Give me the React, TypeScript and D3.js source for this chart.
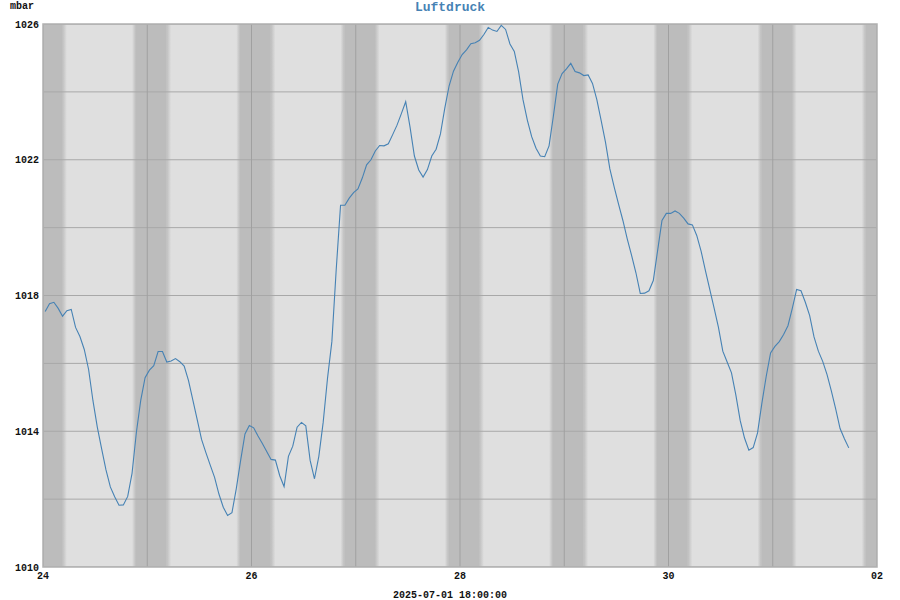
import React, { useEffect } from 'react';
import * as d3 from 'd3';

// hourly readings, first one at 2025-06-24 00:30 UTC
const startTime = Date.UTC(2025, 5, 24, 0, 30);
const pressure = [
  1017.53, 1017.76, 1017.8, 1017.62, 1017.39, 1017.55, 1017.59, 1017.06, 1016.79, 1016.41,
  1015.82, 1014.9, 1014.12, 1013.48, 1012.86, 1012.36, 1012.07, 1011.82, 1011.83, 1012.08,
  1012.76, 1013.97, 1014.91, 1015.58, 1015.8, 1015.93, 1016.35, 1016.35, 1016.04, 1016.07,
  1016.14, 1016.05, 1015.92, 1015.49, 1014.92, 1014.34, 1013.76, 1013.37, 1013.0, 1012.64,
  1012.15, 1011.76, 1011.52, 1011.6, 1012.31, 1013.14, 1013.92, 1014.17, 1014.1, 1013.86,
  1013.64, 1013.4, 1013.17, 1013.15, 1012.69, 1012.37, 1013.26, 1013.56, 1014.12, 1014.26,
  1014.16, 1013.14, 1012.6, 1013.26, 1014.26, 1015.56, 1016.64, 1018.76, 1020.66, 1020.66,
  1020.87, 1021.03, 1021.14, 1021.46, 1021.85, 1022.0, 1022.26, 1022.42, 1022.41, 1022.47,
  1022.74, 1023.02, 1023.36, 1023.71, 1022.96, 1022.11, 1021.7, 1021.49, 1021.71, 1022.11,
  1022.31, 1022.76, 1023.52, 1024.18, 1024.61, 1024.87, 1025.1, 1025.24, 1025.42, 1025.45,
  1025.52, 1025.69, 1025.9, 1025.82, 1025.78, 1025.96, 1025.84, 1025.41, 1025.19, 1024.59,
  1023.77, 1023.17, 1022.68, 1022.34, 1022.11, 1022.09, 1022.41, 1023.29, 1024.23, 1024.54,
  1024.68, 1024.84, 1024.6, 1024.56, 1024.48, 1024.5, 1024.25, 1023.77, 1023.15, 1022.51,
  1021.73, 1021.19, 1020.69, 1020.21, 1019.67, 1019.18, 1018.67, 1018.06, 1018.07, 1018.14,
  1018.44, 1019.33, 1020.21, 1020.42, 1020.42, 1020.49, 1020.42, 1020.28, 1020.11, 1020.08,
  1019.77, 1019.31, 1018.73, 1018.18, 1017.63, 1017.06, 1016.36, 1016.04, 1015.72, 1015.07,
  1014.32, 1013.8, 1013.44, 1013.52, 1013.95, 1014.83, 1015.62, 1016.31, 1016.5, 1016.64,
  1016.85, 1017.11, 1017.62, 1018.18, 1018.14, 1017.8, 1017.41, 1016.78, 1016.36, 1016.06,
  1015.67, 1015.18, 1014.65, 1014.08, 1013.78, 1013.51,
];

const xDomain = [new Date(Date.UTC(2025, 5, 24)), new Date(Date.UTC(2025, 6, 2))];
const yDomain: [number, number] = [1010, 1026];
const yGridTicks = d3.range(1010, 1027, 2);
const yLabelTicks = [1010, 1014, 1018, 1022, 1026];
const xTickDays = [0, 2, 4, 6, 8]; // days after start: 24, 26, 28, 30, 02
const updated = '2025-07-01 18:00:00';

// night shading, hours relative to midnight
const duskStart = -3.5;
const darkStart = -2.6;
const darkEnd = 4.4;
const dawnEnd = 5.5;

const W = 900;
const H = 600;
const margin = { top: 24, right: 23, bottom: 33, left: 43 };
const font = '"Liberation Mono", "DejaVu Sans Mono", monospace';

const App: React.FC = () => {
  useEffect(() => {
    document.body.style.margin = '0';
  }, []);

  const x = d3.scaleUtc().domain(xDomain).range([margin.left, W - margin.right]);
  const y = d3.scaleLinear().domain(yDomain).range([H - margin.bottom, margin.top]);

  const points = pressure.map((v, i) => ({ t: new Date(startTime + i * 3600000), v }));
  const line = d3.line<{ t: Date; v: number }>()
    .x(d => x(d.t))
    .y(d => y(d.v));

  const midnights = d3.utcDay.range(xDomain[0], d3.utcDay.offset(xDomain[1], 1));
  const hr = (d: Date, h: number) => x(new Date(d.getTime() + h * 3600000));
  const xTicks = xTickDays.map(n => d3.utcDay.offset(xDomain[0], n));
  const fmt = d3.utcFormat('%d');

  const [x0, x1] = x.range();
  const [y1, y0] = y.range();

  return (
    <svg width={W} height={H} style={{ display: 'block' }}>
      <defs>
        <clipPath id="plot">
          <rect x={x0} y={y0} width={x1 - x0} height={y1 - y0} />
        </clipPath>
        <linearGradient id="dusk" x1="0" x2="1" y1="0" y2="0">
          <stop offset="0" stopColor="#dfdfdf" />
          <stop offset="1" stopColor="#bcbcbc" />
        </linearGradient>
        <linearGradient id="dawn" x1="0" x2="1" y1="0" y2="0">
          <stop offset="0" stopColor="#bcbcbc" />
          <stop offset="1" stopColor="#dfdfdf" />
        </linearGradient>
      </defs>

      <text x={W / 2} y={11} textAnchor="middle" fontFamily={font} fontWeight="bold"
        fontSize={13} fill="#4682b4">Luftdruck</text>
      <text x={10} y={9} fontFamily={font} fontWeight="bold" fontSize={10} fill="#111">mbar</text>

      <g clipPath="url(#plot)">
        <rect x={x0} y={y0} width={x1 - x0} height={y1 - y0} fill="#dfdfdf" />
        {midnights.map(d => (
          <g key={d.getTime()}>
            <rect x={hr(d, duskStart)} y={y0} width={hr(d, darkStart) - hr(d, duskStart)}
              height={y1 - y0} fill="url(#dusk)" />
            <rect x={hr(d, darkStart) - 0.2} y={y0} width={hr(d, darkEnd) - hr(d, darkStart) + 0.4}
              height={y1 - y0} fill="#bcbcbc" />
            <rect x={hr(d, darkEnd)} y={y0} width={hr(d, dawnEnd) - hr(d, darkEnd)}
              height={y1 - y0} fill="url(#dawn)" />
          </g>
        ))}
        {yGridTicks.map(t => (
          <line key={t} x1={x0} x2={x1} y1={y(t)} y2={y(t)} stroke="#a8a8a8" strokeWidth={1} />
        ))}
        {midnights.map(d => (
          <line key={d.getTime()} x1={x(d)} x2={x(d)} y1={y0} y2={y1} stroke="#a0a0a0" strokeWidth={1} />
        ))}
      </g>

      <rect x={x0} y={y0} width={x1 - x0} height={y1 - y0} fill="none" stroke="#b0b0b0" strokeWidth={1.5} />

      <path d={line(points) ?? ''} fill="none" stroke="#4682b4" strokeWidth={1.1} />

      {yLabelTicks.map(t => (
        <text key={t} x={39} y={y(t)} dy="0.35em" textAnchor="end" fontFamily={font}
          fontWeight="bold" fontSize={10} fill="#111">{t}</text>
      ))}
      {xTicks.map(d => (
        <text key={d.getTime()} x={x(d)} y={579} textAnchor="middle" fontFamily={font}
          fontWeight="bold" fontSize={10} fill="#111">{fmt(d)}</text>
      ))}

      <text x={W / 2} y={598} textAnchor="middle" fontFamily={font} fontWeight="bold"
        fontSize={10} fill="#111">{updated}</text>
    </svg>
  );
};

export default App;
